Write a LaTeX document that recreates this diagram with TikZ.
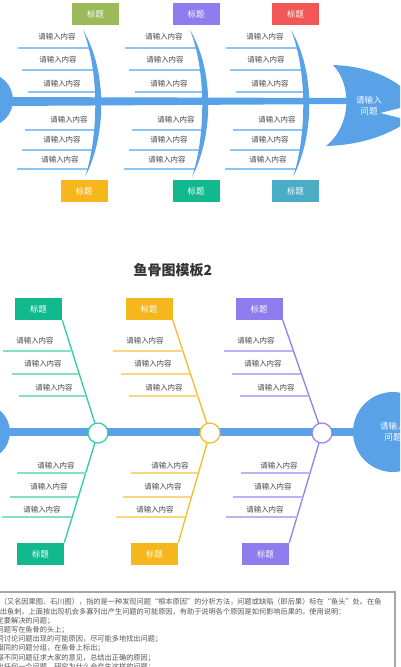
\documentclass[tikz,border=0pt]{standalone}
\usepackage{fontspec}
\setmainfont{Noto Sans CJK SC}
\definecolor{mainblue}{HTML}{5AA2E8}
\definecolor{lineblue}{HTML}{8EC4F2}
\definecolor{txtgray}{HTML}{444444}
\definecolor{descgray}{HTML}{555555}
\definecolor{titlegray}{HTML}{333333}
\definecolor{boxgray}{HTML}{A6A6A6}
\definecolor{bgreen}{HTML}{9BBB59}
\definecolor{bpurple}{HTML}{8F7CEE}
\definecolor{bred}{HTML}{F25757}
\definecolor{borange}{HTML}{F5B61E}
\definecolor{bteal}{HTML}{12B98F}
\definecolor{bcyan}{HTML}{4BACC6}
\definecolor{dteal}{HTML}{33CCA6}
\definecolor{lteal}{HTML}{84DEC9}
\definecolor{dorange}{HTML}{F5BD2C}
\definecolor{lorange}{HTML}{F9D67F}
\definecolor{dpurple}{HTML}{9182F0}
\definecolor{lpurple}{HTML}{BCB2F6}
\begin{document}
\begin{tikzpicture}[x=0.75pt,y=-0.75pt,
  tbox/.style={minimum width=35.25pt,minimum height=16.5pt,inner sep=0pt,text=white,font=\fontsize{6.2}{7}\selectfont},
  lbl/.style={font=\fontsize{5.6}{6.5}\selectfont,text=txtgray,inner sep=0pt},
  twig/.style={line width=1.1pt},
  branch/.style={line width=1.4pt},
  diag/.style={line width=1pt},
  joint/.style={circle,fill=white,minimum size=15pt,inner sep=0pt,line width=0.9pt}]
\useasboundingbox (0,0) rectangle (400,667);
\clip (0,0) rectangle (400,667);

% ================= top fishbone =================
\node[circle,fill=mainblue,minimum size=40.5pt,inner sep=0pt] (tailA) at (-14,100) {};
\fill[mainblue] (5,97) -- (350,98) -- (350,104) -- (5,106) -- cycle;

% twigs and labels
\foreach \dx [count=\g] in {0,107,208}{
  \foreach \y/\xa/\xb/\tx/\ty [count=\i] in {48/18/90/57/37, 70/22/94/58/60, 92/28/96/62/84, 130/25/96/69/120, 150/22/93/62/140, 169/17/89/60/160}{
    \coordinate (a\g\i) at (\xa+\dx,\y);
    \coordinate (b\g\i) at (\xb+\dx,\y);
    \draw[twig,lineblue] (a\g\i) -- (b\g\i);
    \node[lbl] (la\g\i) at (\tx+\dx,\ty) {请输入内容};
  }
  % rib (crescent)
  \fill[mainblue] (83+\dx,30) .. controls (107+\dx,70) and (107+\dx,135) .. (85+\dx,177)
     .. controls (99+\dx,135) and (99+\dx,70) .. (83+\dx,30) -- cycle;
}

% head
\fill[mainblue] (333,65) .. controls (360,66) and (385,73) .. (404,89) -- (404,107) -- (380,113) -- (404,119) -- (404,124)
   .. controls (385,136) and (360,145) .. (326,146) .. controls (352,125) and (352,85) .. (333,65) -- cycle;
\node[align=center,text=white,inner sep=0pt,font=\fontsize{6.4}{8.2}\selectfont] (headAtxt) at (369,105.5) {请输入\\问题};

% title boxes
\node[tbox,fill=bgreen] (ta1) at (95.5,14) {标题};
\node[tbox,fill=bpurple] (ta2) at (196,14) {标题};
\node[tbox,fill=bred] (ta3) at (295.5,14) {标题};
\node[tbox,fill=borange] (ba1) at (84,191) {标题};
\node[tbox,fill=bteal] (ba2) at (196,191) {标题};
\node[tbox,fill=bcyan] (ba3) at (295.5,191) {标题};

% ================= title =================
\node[font=\fontsize{10.5}{12}\selectfont\bfseries,text=titlegray] (title) at (173,270) {鱼骨图模板2};

% ================= bottom fishbone =================
\node[circle,fill=mainblue,minimum size=42pt,inner sep=0pt] (tailB) at (-18,432) {};
\node[circle,fill=mainblue,minimum size=60pt,inner sep=0pt,align=center,text=white,font=\fontsize{6.4}{8.2}\selectfont] (headB) at (393,432) {请输入\\问题};
\draw[mainblue,line width=6pt] (tailB) -- (headB);

\node[tbox,fill=bteal] (tb1) at (38.5,309) {标题};
\node[tbox,fill=borange] (tb2) at (149,309) {标题};
\node[tbox,fill=bpurple] (tb3) at (259,309) {标题};
\node[tbox,fill=bteal] (bb1) at (40.5,554) {标题};
\node[tbox,fill=borange] (bb2) at (154.5,554) {标题};
\node[tbox,fill=bpurple] (bb3) at (265.5,554) {标题};

\node[joint,draw=dteal] (j1) at (98,433) {};
\node[joint,draw=dorange] (j2) at (210,433) {};
\node[joint,draw=dpurple] (j3) at (322,433) {};

\draw[diag,dteal] (tb1.south east) -- (j1);
\draw[diag,dteal] (j1) -- (bb1.north east);
\draw[diag,dorange] (tb2.south east) -- (j2);
\draw[diag,dorange] (j2) -- (bb2.north east);
\draw[diag,dpurple] (tb3.south east) -- (j3);
\draw[diag,dpurple] (j3) -- (bb3.north east);

% group 1
\foreach \y/\xa/\xb/\tx/\ty [count=\i] in {351/3/72/35/341, 374/12/79/43/364, 396/19/86/54/388, 473/17/86/56/466, 497/10/78/49/487, 517/2/72/42/510}{
  \coordinate (p1\i) at (\xa,\y); \coordinate (q1\i) at (\xb,\y);
  \draw[branch,lteal] (p1\i) -- (q1\i);
  \node[lbl] (lb1\i) at (\tx,\ty) {请输入内容};
}
% group 2
\foreach \y/\xa/\xb/\tx/\ty [count=\i] in {351/113/183/145/341, 374/121/190/153/364, 396/129/198/164/388, 473/131/198/170/466, 497/123/191/163/487, 517/116/185/155/510}{
  \coordinate (p2\i) at (\xa,\y); \coordinate (q2\i) at (\xb,\y);
  \draw[branch,lorange] (p2\i) -- (q2\i);
  \node[lbl] (lb2\i) at (\tx,\ty) {请输入内容};
}
% group 3
\foreach \y/\xa/\xb/\tx/\ty [count=\i] in {351/224/293/256/341, 374/232/301/263/364, 396/240/309/276/388, 473/241/310/279/466, 497/233/303/273/487, 517/226/297/265/510}{
  \coordinate (p3\i) at (\xa,\y); \coordinate (q3\i) at (\xb,\y);
  \draw[branch,lpurple] (p3\i) -- (q3\i);
  \node[lbl] (lb3\i) at (\tx,\ty) {请输入内容};
}

% ================= description box =================
\draw[boxgray,line width=0.8pt] (-5,592) rectangle (395,720);
\node[anchor=north west,align=left,inner sep=0pt,font=\fontsize{5.4}{6.9}\selectfont,text=descgray] (desc) at (-22,598.5)
{鱼骨图（又名因果图、石川图），指的是一种发现问题“根本原因”的分析方法，问题或缺陷（即后果）标在“鱼头”处。在鱼\\
骨上长出鱼刺，上面按出现机会多寡列出产生问题的可能原因，有助于说明各个原因是如何影响后果的。使用说明：\\
1、确定要解决的问题；\\
2、把问题写在鱼骨的头上；\\
3、共同讨论问题出现的可能原因，尽可能多地找出问题；\\
4、把相同的问题分组，在鱼骨上标出；\\
5、根据不同问题征求大家的意见，总结出正确的原因；\\
6、拿出任何一个问题，研究为什么会产生这样的问题；};
\end{tikzpicture}
\end{document}
